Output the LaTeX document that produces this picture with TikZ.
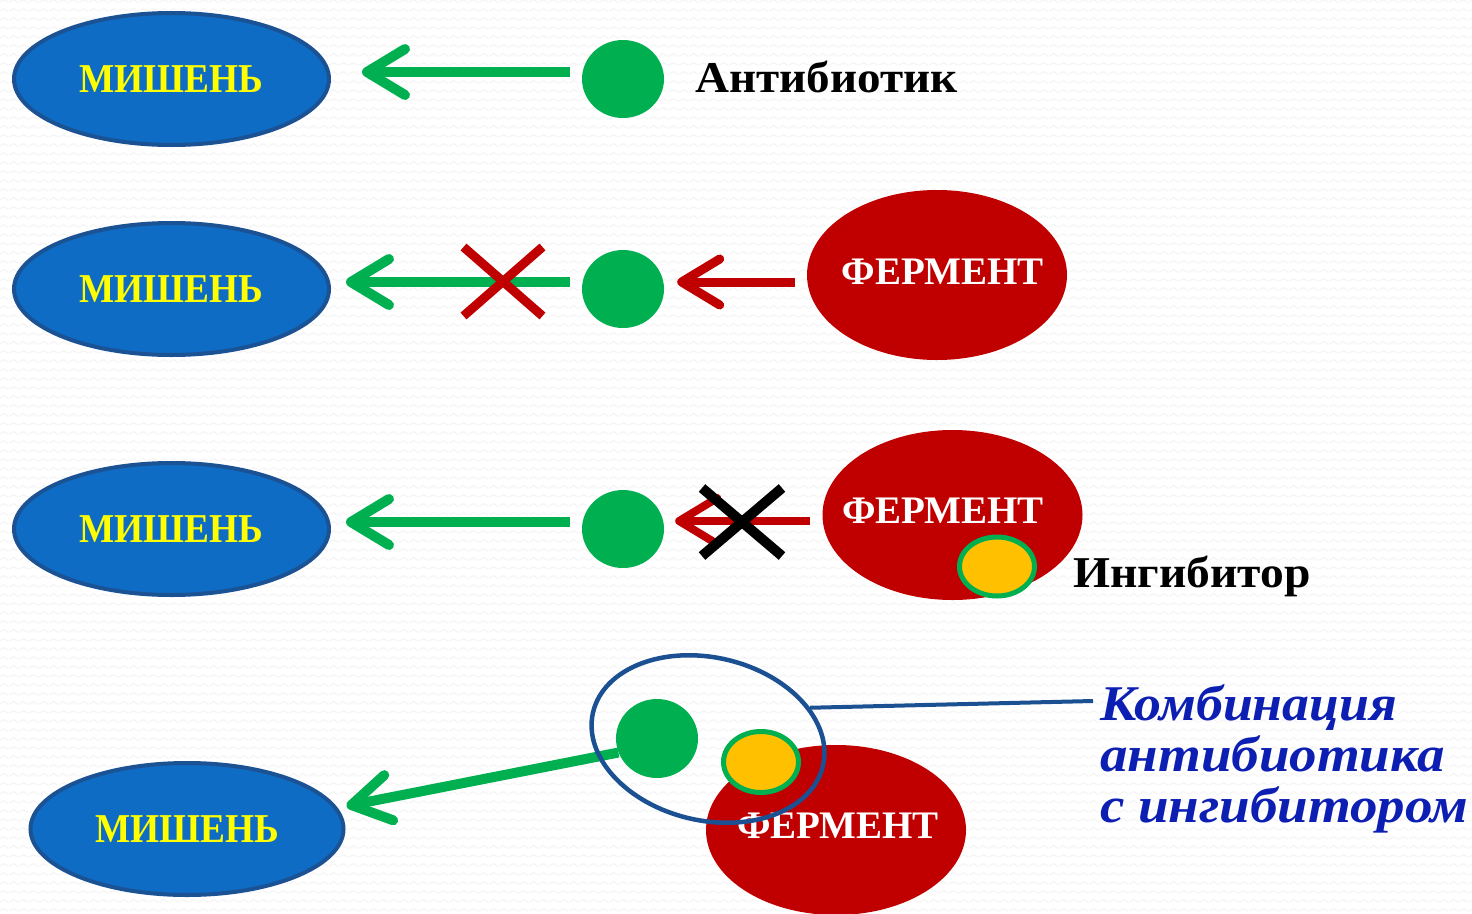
\documentclass[tikz,border=0pt]{standalone}
\usepackage{fontspec}
\usepackage{graphicx}
\setmainfont{Liberation Serif}
\usetikzlibrary{shapes.geometric,shapes.misc,arrows.meta,patterns}

\definecolor{targetblue}{HTML}{0F6CC4}
\definecolor{targetedge}{HTML}{1A5294}
\definecolor{drug}{HTML}{00B050}
\definecolor{enzyme}{HTML}{C00000}
\definecolor{inhib}{HTML}{FFC000}
\definecolor{ringblue}{HTML}{1B5192}
\definecolor{noteblue}{HTML}{0C1FB2}
\definecolor{txtyellow}{HTML}{FFFF00}

% horizontal-only scaling of a piece of text
\newcommand{\hstretchbox}[2]{\scalebox{#1}[1]{#2}}

% faint zigzag paper texture
\pgfdeclarepatternformonly{zigzagpaper}{\pgfpointorigin}{\pgfpoint{10pt}{9pt}}{\pgfpoint{10pt}{9pt}}{%
  \pgfsetlinewidth{1.2pt}%
  \pgfpathmoveto{\pgfpoint{0pt}{3pt}}%
  \pgfpathlineto{\pgfpoint{5pt}{6pt}}%
  \pgfpathlineto{\pgfpoint{10pt}{3pt}}%
  \pgfusepath{stroke}}

\tikzset{
  target/.style={ellipse, draw=targetedge, line width=4pt, fill=targetblue,
    minimum width=315pt, minimum height=132pt, inner sep=0pt,
    text=txtyellow, font=\fontsize{41}{41}\selectfont\bfseries},
  enzymebox/.style={ellipse, fill=enzyme, minimum width=260pt, minimum height=170pt, inner sep=0pt},
  enztext/.style={text=white, inner sep=0pt, font=\fontsize{39}{39}\selectfont\bfseries},
  drugdot/.style={ellipse, fill=drug, minimum width=82pt, minimum height=78pt, inner sep=0pt},
  inhibdot/.style={ellipse, fill=inhib, draw=drug, line width=5pt,
    minimum width=75pt, minimum height=59pt, inner sep=0pt},
  garrow/.style={draw=drug, line width=10pt, -{Straight Barb[length=38pt,width=46pt,round]}},
  rarrow/.style={draw=enzyme, line width=9pt, -{Straight Barb[length=38pt,width=46pt,round]}},
  xmark/.style={cross out, draw=#1, line width=9pt, minimum width=70pt, minimum height=60pt, inner sep=0pt},
  tag/.style={inner sep=0pt, anchor=base west, font=\fontsize{44}{44}\selectfont\bfseries},
}

\begin{document}
\begin{tikzpicture}[x=1pt, y=1pt]
  \useasboundingbox (0,0) rectangle (1472,-913);
  \fill[white] (0,0) rectangle (1472,-913);
  \fill[pattern=zigzagpaper, pattern color=black!4] (0,0) rectangle (1472,-913);

  % row 1: antibiotic reaches its target
  \node[target] (m1) at (171.5,-79) {\hstretchbox{0.91}{МИШЕНЬ}};
  \node[drugdot] (g1) at (623,-79) {};
  \draw[garrow, shorten <=12pt, shorten >=31pt] ([yshift=7pt]g1.west) -- ([yshift=7pt]m1.east);
  \node[tag] (ab) at (695,-92) {\hstretchbox{1.07}{Антибиотик}};

  % row 2: enzyme blocks the antibiotic
  \node[target] (m2) at (171.5,-289) {\hstretchbox{0.91}{МИШЕНЬ}};
  \node[drugdot] (g2) at (623,-289) {};
  \node[enzymebox] (f2) at (937,-275) {};
  \node[enztext] (f2t) at (942.5,-271.5) {ФЕРМЕНТ};
  \draw[garrow, shorten <=12pt, shorten >=15pt] ([yshift=7pt]g2.west) -- ([yshift=7pt]m2.east);
  \draw[rarrow, shorten <=12pt, shorten >=13pt] ([yshift=-7pt]f2.west) -- ([yshift=7pt]g2.east);
  \node[xmark=enzyme] (x2) at (503,-281.5) {};

  % row 3: inhibitor disables the enzyme
  \node[target] (m3) at (171.5,-529) {\hstretchbox{0.91}{МИШЕНЬ}};
  \node[drugdot] (g3) at (623,-529) {};
  \node[enzymebox] (f3) at (952.5,-515) {};
  \node[enztext] (f3t) at (943,-511) {ФЕРМЕНТ};
  \node[inhibdot] (i3) at (997,-566.5) {};
  \draw[garrow, shorten <=12pt, shorten >=15pt] ([yshift=7pt]g3.west) -- ([yshift=7pt]m3.east);
  \draw[rarrow, line width=8pt, shorten <=12.5pt, shorten >=11pt] ([yshift=-6pt]f3.west) -- ([yshift=8pt]g3.east);
  \node[xmark=black, line width=10pt, minimum height=58pt] (x3) at (742,-522) {};
  \node[tag] (inh) at (1073,-587) {\hstretchbox{1.08}{Ингибитор}};

  % row 4: combined drug
  \node[target, minimum width=313pt] (m4) at (187,-829) {\hstretchbox{0.91}{МИШЕНЬ}};
  \node[enzymebox] (f4) at (836,-830) {};
  \node[enztext] (f4t) at (838,-826) {ФЕРМЕНТ};
  \node[drugdot, minimum height=79pt] (g4) at (657,-738.5) {};
  \draw[garrow] (g4.200) -- ([xshift=1pt,yshift=23pt]m4.east);
  \node[inhibdot, minimum height=61pt] (i4) at (761,-762) {};
  \node[ellipse, draw=ringblue, line width=4.5pt, minimum width=236pt, minimum height=163pt,
        inner sep=0pt, rotate=-13] (ring) at (708,-739) {};
  \coordinate (lead) at (1093,-701);
  \draw[ringblue, line width=4pt] (ring.30) -- (lead);
  \node[inner sep=0pt, anchor=north west, align=left, text=noteblue,
        font=\fontsize{50}{51}\selectfont\bfseries\itshape] (note) at (1100,-684)
        {\hstretchbox{1.075}{Комбинация}\\\hstretchbox{1.1}{антибиотика}\\\hstretchbox{1.1}{с ингибитором}};
\end{tikzpicture}
\end{document}
